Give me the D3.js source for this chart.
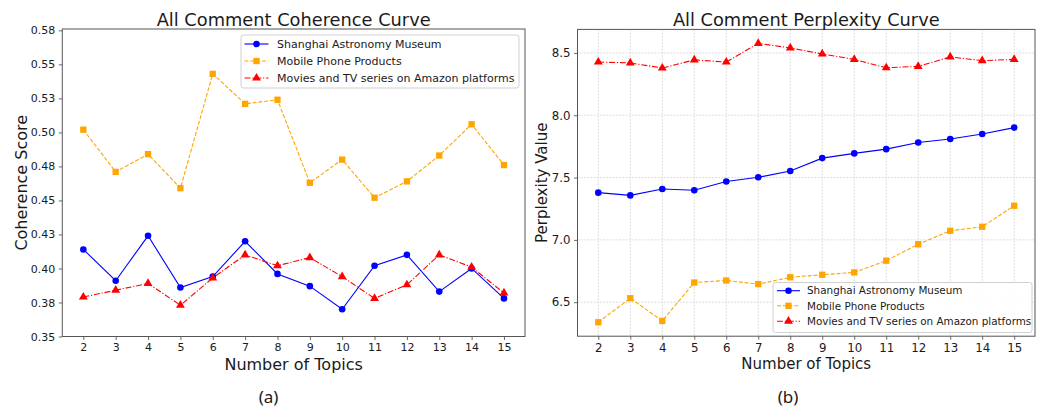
<!DOCTYPE html>
<html>
<head>
<meta charset="utf-8">
<script src="https://cdn.jsdelivr.net/npm/d3@7"></script>
<style>
  html, body { margin: 0; padding: 0; background: #ffffff; }
  svg { display: block; font-family: "DejaVu Sans", sans-serif; }
</style>
</head>
<body>
<svg id="chart" width="1044" height="408"></svg>
<script>
// Number of topics on the x axis
const topics = [2, 3, 4, 5, 6, 7, 8, 9, 10, 11, 12, 13, 14, 15];

const seriesNames = [
  "Shanghai Astronomy Museum",
  "Mobile Phone Products",
  "Movies and TV series on Amazon platforms"
];

// Coherence scores per topic count
const coherenceMuseum = [0.414, 0.391, 0.424, 0.386, 0.394, 0.420, 0.396, 0.387, 0.370, 0.402, 0.410, 0.383, 0.400, 0.378];
const coherencePhone  = [0.502, 0.471, 0.484, 0.459, 0.543, 0.521, 0.524, 0.463, 0.480, 0.452, 0.464, 0.483, 0.506, 0.476];
const coherenceAmazon = [0.379, 0.384, 0.389, 0.373, 0.393, 0.410, 0.402, 0.408, 0.394, 0.378, 0.388, 0.410, 0.401, 0.382];

// Perplexity values per topic count
const perplexityMuseum = [7.379, 7.357, 7.408, 7.398, 7.468, 7.502, 7.553, 7.656, 7.694, 7.728, 7.782, 7.810, 7.849, 7.901];
const perplexityPhone  = [6.339, 6.532, 6.350, 6.658, 6.674, 6.645, 6.700, 6.720, 6.739, 6.833, 6.965, 7.073, 7.105, 7.274];
const perplexityAmazon = [8.427, 8.420, 8.379, 8.444, 8.427, 8.577, 8.540, 8.492, 8.448, 8.381, 8.392, 8.468, 8.438, 8.448];

// Y tick positions and their printed labels
const coherenceTicks = [0.35, 0.375, 0.40, 0.425, 0.45, 0.475, 0.50, 0.525, 0.55, 0.575];
const coherenceTickLabels = ["0.35", "0.38", "0.40", "0.43", "0.45", "0.48", "0.50", "0.53", "0.55", "0.58"];
const perplexityTicks = [6.5, 7.0, 7.5, 8.0, 8.5];
const perplexityTickLabels = ["6.5", "7.0", "7.5", "8.0", "8.5"];

const svg = d3.select("#chart");

const styles = [
  { color: "#0000ff", dash: null,      marker: "circle" },
  { color: "#ffa500", dash: "4,1.8",   marker: "square" },
  { color: "#ff0000", dash: "6,1.8,1.2,1.8", marker: "triangle" }
];

function markerPath(type) {
  if (type === "circle") return d3.symbol(d3.symbolCircle, 34)();
  if (type === "square") return d3.symbol(d3.symbolSquare, 40)();
  return d3.symbol(d3.symbolTriangle, 34)();
}

function drawPanel(cfg) {
  const g = svg.append("g");
  const x = d3.scaleLinear().domain([1.35, 15.65]).range([cfg.left, cfg.right]);
  const y = d3.scaleLinear().domain(cfg.yDomain).range([cfg.bottom, cfg.top]);

  // grid
  if (cfg.grid) {
    const grid = g.append("g").attr("stroke", "#d4d4d4").attr("stroke-width", 0.8)
      .attr("stroke-dasharray", "2,1.2");
    grid.selectAll("line.vx").data(topics).join("line")
      .attr("x1", d => x(d)).attr("x2", d => x(d))
      .attr("y1", cfg.top).attr("y2", cfg.bottom);
    grid.selectAll("line.hy").data(cfg.ticks).join("line")
      .attr("x1", cfg.left).attr("x2", cfg.right)
      .attr("y1", d => y(d)).attr("y2", d => y(d));
  }

  // axes
  const xAxis = d3.axisBottom(x).tickValues(topics).tickSize(3.5).tickPadding(3.5)
    .tickFormat(d3.format("d"));
  const yAxis = d3.axisLeft(y).tickValues(cfg.ticks).tickSize(3.5).tickPadding(3.5)
    .tickFormat((d, i) => cfg.tickLabels[i]);

  const gx = g.append("g").attr("transform", `translate(0,${cfg.bottom})`).call(xAxis);
  const gy = g.append("g").attr("transform", `translate(${cfg.left},0)`).call(yAxis);
  [gx, gy].forEach(a => {
    a.select(".domain").remove();
    a.selectAll(".tick line").attr("stroke", "#444").attr("stroke-width", 0.8);
    a.selectAll(".tick text").attr("fill", "#1a1a1a")
      .attr("font-family", "DejaVu Sans").attr("font-size", cfg.tickFont);
  });

  // lines and markers
  cfg.series.forEach((vals, si) => {
    const st = styles[si];
    const pts = topics.map((t, i) => [t, vals[i]]);
    const line = d3.line().x(d => x(d[0])).y(d => y(d[1]));
    g.append("path").datum(pts)
      .attr("d", line).attr("fill", "none").attr("stroke", st.color)
      .attr("stroke-width", 1.1)
      .attr("stroke-dasharray", st.dash);
    g.selectAll(null).data(pts).join("path")
      .attr("d", markerPath(st.marker))
      .attr("transform", d => `translate(${x(d[0])},${y(d[1])})`)
      .attr("fill", st.color);
  });

  // frame
  g.append("rect")
    .attr("x", cfg.left).attr("y", cfg.top)
    .attr("width", cfg.right - cfg.left).attr("height", cfg.bottom - cfg.top)
    .attr("fill", "none").attr("stroke", "#555").attr("stroke-width", 1);

  // title and axis labels
  const cx = (cfg.left + cfg.right) / 2;
  g.append("text").attr("x", cx).attr("y", 25.5).attr("text-anchor", "middle")
    .attr("font-size", 17.8).attr("fill", "#1a1a1a").text(cfg.title);
  g.append("text").attr("x", cx).attr("y", cfg.xLabelY).attr("text-anchor", "middle")
    .attr("font-size", cfg.labelFont).attr("fill", "#1a1a1a").text("Number of Topics");
  g.append("text")
    .attr("transform", `translate(${cfg.yLabelX},${(cfg.top + cfg.bottom) / 2}) rotate(-90)`)
    .attr("text-anchor", "middle").attr("font-size", cfg.labelFont).attr("fill", "#1a1a1a")
    .text(cfg.yLabel);

  // legend
  const L = cfg.legend;
  const lg = g.append("g");
  lg.append("rect").attr("x", L.x).attr("y", L.y).attr("width", L.w).attr("height", L.h)
    .attr("rx", 2.5).attr("fill", "#ffffff").attr("fill-opacity", 0.85)
    .attr("stroke", "#d0d0d0").attr("stroke-width", 1);
  seriesNames.forEach((name, si) => {
    const st = styles[si];
    const ry = L.rows[si];
    lg.append("line").attr("x1", L.lineX0).attr("x2", L.lineX1).attr("y1", ry).attr("y2", ry)
      .attr("stroke", st.color).attr("stroke-width", 1.1).attr("stroke-dasharray", st.dash);
    lg.append("path").attr("d", markerPath(st.marker))
      .attr("transform", `translate(${(L.lineX0 + L.lineX1) / 2},${ry})`).attr("fill", st.color);
    lg.append("text").attr("x", L.textX).attr("y", ry).attr("dy", "0.36em")
      .attr("font-size", L.font).attr("fill", "#1a1a1a").text(name);
  });

  // caption
  svg.append("text").attr("x", cfg.captionX).attr("y", 403).attr("text-anchor", "middle")
    .attr("font-family", "Noto Sans").attr("font-size", 17).attr("fill", "#1a1a1a")
    .text(cfg.caption);
}

drawPanel({
  left: 62.3, right: 525, top: 29, bottom: 336.5,
  yDomain: [0.35, 0.576],
  ticks: coherenceTicks, tickLabels: coherenceTickLabels,
  series: [coherenceMuseum, coherencePhone, coherenceAmazon],
  grid: false, tickFont: 11, labelFont: 16,
  title: "All Comment Coherence Curve", yLabel: "Coherence Score",
  xLabelY: 370, yLabelX: 27,
  legend: { x: 241, y: 35, w: 278, h: 53, rows: [44, 61, 78], lineX0: 244.5, lineX1: 268.5, textX: 277, font: 11 },
  caption: "(a)", captionX: 268.5
});

const pLo = d3.min([perplexityMuseum, perplexityPhone, perplexityAmazon].flat());
const pHi = d3.max([perplexityMuseum, perplexityPhone, perplexityAmazon].flat());
const pPad = (pHi - pLo) * 0.05;

drawPanel({
  left: 577.5, right: 1035, top: 29.4, bottom: 336.2,
  yDomain: [pLo - pPad, pHi + pPad],
  ticks: perplexityTicks, tickLabels: perplexityTickLabels,
  series: [perplexityMuseum, perplexityPhone, perplexityAmazon],
  grid: true, tickFont: 11.8, labelFont: 15,
  title: "All Comment Perplexity Curve", yLabel: "Perplexity Value",
  xLabelY: 368.5, yLabelX: 547,
  legend: { x: 773, y: 282.5, w: 259, h: 50, rows: [290.7, 305.8, 321.2], lineX0: 777, lineX1: 800, textX: 807, font: 10.4 },
  caption: "(b)", captionX: 788
});
</script>
</body>
</html>
